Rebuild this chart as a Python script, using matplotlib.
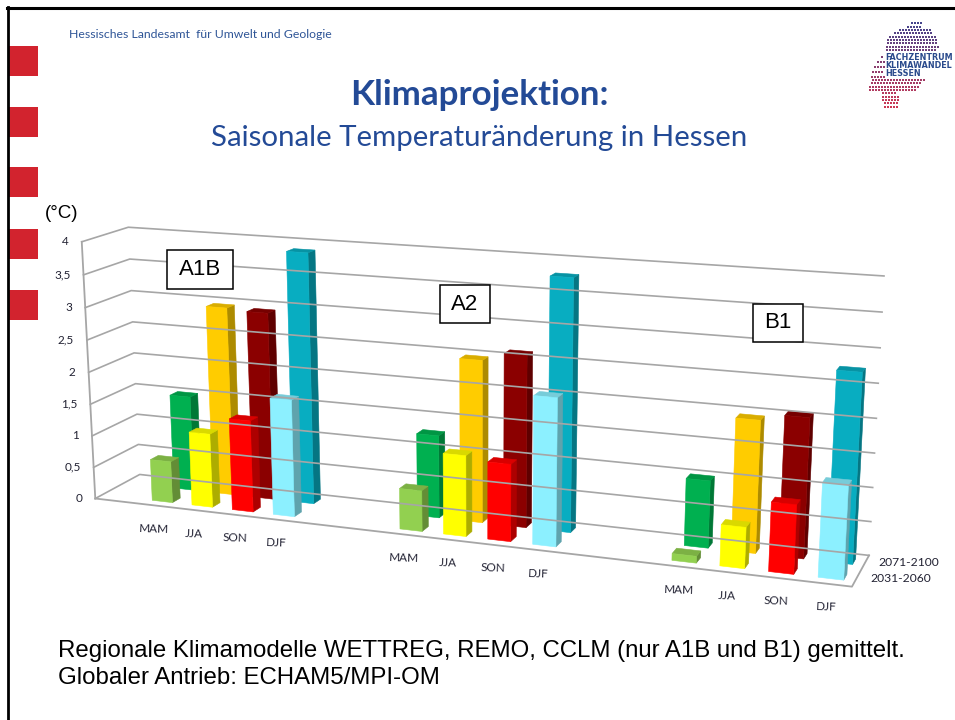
import numpy as np
import matplotlib
matplotlib.use("Agg")
import matplotlib.pyplot as plt
from matplotlib.patches import Polygon, Rectangle
from matplotlib.colors import to_rgb

scenarios = ["A1B", "A2", "B1"]
seasons = ["MAM", "JJA", "SON", "DJF"]
periods = ["2031-2060", "2071-2100"]
y_ticks = [0, 0.5, 1, 1.5, 2, 2.5, 3, 3.5, 4]
y_tick_labels = ["0", "0,5", "1", "1,5", "2", "2,5", "3", "3,5", "4"]

a1b_2031 = [0.65, 1.15, 1.42, 1.8]
a1b_2071 = [1.5, 2.95, 2.92, 3.88]
a2_2031 = [0.62, 1.22, 1.16, 2.2]
a2_2071 = [1.27, 2.47, 2.6, 3.78]
b1_2031 = [0.1, 0.6, 1.0, 1.35]
b1_2071 = [1.0, 1.95, 2.05, 2.75]

front_colors = ["#92D050", "#FFFF00", "#FF0000", "#8CF0FF"]
back_colors = ["#00B050", "#FFCC00", "#8B0000", "#08ADC1"]

# slots along the category axis: 1 empty, 4 bars, 2 empty, 4 bars, 2 empty, 4 bars
n_slots = 17
group_start = [1, 7, 13]

# corners of the chart box: (category axis, depth, value) -> picture pixels
box_3d = [(0, 0, 0), (1, 0, 0), (0, 1, 0), (1, 1, 0), (0, 0, 4), (0, 1, 4), (1, 1, 4)]
box_px = [(95, 498), (852, 587), (140, 475), (869, 555), (82, 242), (128, 227), (884, 276)]


def fit_camera(pts3d, pts2d):
    rows = []
    for (X, Y, Z), (x, y) in zip(pts3d, pts2d):
        x, y = x / 1000.0, y / 1000.0
        rows.append([X, Y, Z, 1, 0, 0, 0, 0, -x * X, -x * Y, -x * Z, -x])
        rows.append([0, 0, 0, 0, X, Y, Z, 1, -y * X, -y * Y, -y * Z, -y])
    vt = np.linalg.svd(np.array(rows, dtype=float))[2]
    return vt[-1].reshape(3, 4)


cam = fit_camera(box_3d, box_px)


def proj(u, d, z):
    p = cam @ np.array([u, d, z, 1.0])
    return p[0] / p[2] * 1000.0, p[1] / p[2] * 1000.0


def shade(color, f):
    return tuple(c * f for c in to_rgb(color))


def face(ax, pts, color):
    ax.add_patch(Polygon(pts, closed=True, facecolor=color, edgecolor=color, lw=0.4))


def draw_bar(ax, slot, row, value, color):
    u0 = (slot + 0.27) / n_slots
    u1 = (slot + 0.78) / n_slots
    d0 = 0.16 + row * 0.5
    d1 = d0 + 0.18
    face(ax, [proj(u1, d0, 0), proj(u1, d1, 0), proj(u1, d1, value), proj(u1, d0, value)], shade(color, 0.68))
    face(ax, [proj(u0, d0, value), proj(u1, d0, value), proj(u1, d1, value), proj(u0, d1, value)], shade(color, 0.85))
    face(ax, [proj(u0, d0, 0), proj(u1, d0, 0), proj(u1, d0, value), proj(u0, d0, value)], color)


fig = plt.figure(figsize=(9.55, 7.2), dpi=100)
ax = fig.add_axes([0, 0, 1, 1])
ax.set_xlim(0, 955)
ax.set_ylim(720, 0)
ax.axis("off")

# slide furniture
for top in [46, 107, 167, 229, 290]:
    ax.add_patch(Rectangle((8, top), 30, 30, facecolor="#D2232E", edgecolor="none"))
ax.plot([8, 8], [7, 720], color="black", lw=2)
ax.plot([7, 955], [8, 8], color="black", lw=2.2)

blue = "#234A96"
ax.text(69, 35, "Hessisches Landesamt  für Umwelt und Geologie", family="Lato", fontsize=8.85,
        color="#2F5597", va="center")
ax.text(479, 95, "Klimaprojektion:", family="Lato", weight="bold", fontsize=25.2, color=blue,
        ha="center", va="center")
ax.text(479, 138, "Saisonale Temperaturänderung in Hessen", family="Lato", fontsize=21.2, color=blue,
        ha="center", va="center")

# logo made of dots: y, x from, x to
logo_rows = [(23, 912, 921), (27, 908, 921), (30, 900, 930), (33, 895, 932), (37, 890, 936),
             (40, 888, 936), (43, 888, 938), (47, 887, 938), (50, 887, 936),
             (57, 882, 884), (62, 878, 884), (67, 875, 884), (72, 873, 884), (77, 872, 884),
             (80, 873, 926), (83, 872, 920), (87, 870, 918), (90, 870, 915), (93, 883, 897),
             (97, 883, 898), (100, 883, 898), (103, 885, 898), (107, 885, 897)]
logo_x, logo_y = [], []
for ly, x0, x1 in logo_rows:
    for lx in np.arange(x0, x1 + 1, 3):
        logo_x.append(lx)
        logo_y.append(ly)
logo_y = np.array(logo_y)
logo_t = (logo_y - 23) / 84.0
logo_c = [(0.27 + 0.53 * t, 0.27 - 0.05 * t, 0.55 - 0.22 * t) for t in logo_t]
ax.scatter(logo_x, logo_y, s=4, c=logo_c, marker="s", linewidths=0)
for ly, word in zip([57, 65, 74], ["FACHZENTRUM", "KLIMAWANDEL", "HESSEN"]):
    ax.text(885, ly, word, family="DejaVu Sans", weight="bold", fontsize=5.8, color="#2A4A8C", va="center")

# chart box
grid = "#A6A6A6"
for z in y_ticks:
    a, b, c = proj(0, 0, z), proj(0, 1, z), proj(1, 1, z)
    ax.plot([a[0], b[0], c[0]], [a[1], b[1], c[1]], color=grid, lw=1.2)
floor = [proj(0, 0, 0), proj(1, 0, 0), proj(1, 1, 0)]
ax.plot([p[0] for p in floor], [p[1] for p in floor], color=grid, lw=1.3)
left = [proj(0, 0, 0), proj(0, 0, 4)]
ax.plot([p[0] for p in left], [p[1] for p in left], color=grid, lw=1.3)

# bars, back row first
all_values = [(a1b_2031, a1b_2071), (a2_2031, a2_2071), (b1_2031, b1_2071)]
for row, colors in [(1, back_colors), (0, front_colors)]:
    for start, values in zip(group_start, all_values):
        for i, v in enumerate(values[row]):
            draw_bar(ax, start + i, row, v, colors[i])

# tick labels
tick_color = "#222233"
for z, label in zip(y_ticks, y_tick_labels):
    x, y = proj(0, 0, z)
    ax.text(x - 13, y, label, family="Lato", fontsize=8.5, color=tick_color, ha="right", va="center")

for start in group_start:
    for i, s in enumerate(seasons):
        x, y = proj((start + i + 0.5) / n_slots, 0, 0)
        ax.text(x, y + 23.5, s, family="Lato", fontsize=8.5, color=tick_color,
                ha="center", va="center", rotation=-2)

ax.text(878, 563, periods[1], family="Lato", fontsize=8.7, color=tick_color, va="center")
ax.text(870, 579, periods[0], family="Lato", fontsize=8.7, color=tick_color, va="center")

ax.text(45, 213, "(°C)", family="Liberation Sans", fontsize=13.5, color="black", va="center")

# scenario boxes
boxes = [(167, 250, 66, 39), (440, 285, 50, 38), (753, 304, 50, 38)]
for name, (bx, by, bw, bh) in zip(scenarios, boxes):
    ax.add_patch(Rectangle((bx, by), bw, bh, facecolor="white", edgecolor="black", lw=1.1, zorder=5))
    ax.text(bx + bw / 2, by + bh / 2, name, family="Liberation Sans", fontsize=16, ha="center",
            va="center", zorder=6)

ax.text(58, 651, "Regionale Klimamodelle WETTREG, REMO, CCLM (nur A1B und B1) gemittelt.",
        family="Liberation Sans", fontsize=17.3, color="black", va="center")
ax.text(58, 678, "Globaler Antrieb: ECHAM5/MPI-OM", family="Liberation Sans", fontsize=17.3,
        color="black", va="center")

fig.savefig("out.png", dpi=100)
